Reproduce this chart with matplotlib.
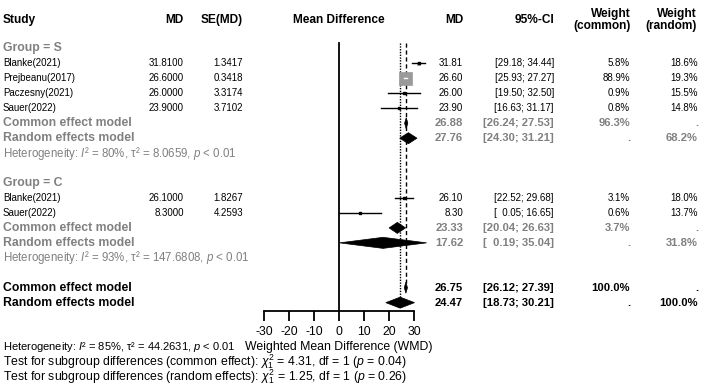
import numpy as np
import matplotlib.pyplot as plt
from matplotlib.patches import Rectangle, Polygon

plt.rcParams['font.family'] = 'Liberation Sans'
plt.rcParams['mathtext.fontset'] = 'custom'
plt.rcParams['mathtext.rm'] = 'Liberation Sans'
plt.rcParams['mathtext.it'] = 'Liberation Sans:italic'
plt.rcParams['mathtext.bf'] = 'Liberation Sans:bold'

# ---- data ----
studies_s = ['Blanke(2021)', 'Prejbeanu(2017)', 'Paczesny(2021)', 'Sauer(2022)']
md_s = [31.81, 26.60, 26.00, 23.90]
se_s = [1.3417, 0.3418, 3.3174, 3.7102]
lo_s = [29.18, 25.93, 19.50, 16.63]
hi_s = [34.44, 27.27, 32.50, 31.17]
wc_s = [5.8, 88.9, 0.9, 0.8]
wr_s = [18.6, 19.3, 15.5, 14.8]

studies_c = ['Blanke(2021)', 'Sauer(2022)']
md_c = [26.10, 8.30]
se_c = [1.8267, 4.2593]
lo_c = [22.52, 0.05]
hi_c = [29.68, 16.65]
wc_c = [3.1, 0.6]
wr_c = [18.0, 13.7]

# model estimates: (est, lo, hi)
common_s = (26.88, 26.24, 27.53)
random_s = (27.76, 24.30, 31.21)
common_c = (23.33, 20.04, 26.63)
random_c = (17.62, 0.19, 35.04)
common_all = (26.75, 26.12, 27.39)
random_all = (24.47, 18.73, 30.21)
wc_models = ['96.3%', '.', '3.7%', '.', '100.0%', '.']
wr_models = ['.', '68.2%', '.', '31.8%', '.', '100.0%']

het_s = r'Heterogeneity: $I$² = 80%, τ² = 8.0659, $p$ < 0.01'
het_c = r'Heterogeneity: $I$² = 93%, τ² = 147.6808, $p$ < 0.01'
het_all = r'Heterogeneity: $\mathbf{\mathit{I}}$² = 85%, τ² = 44.2631, $\mathbf{\mathit{p}}$ < 0.01'
test_common = r'Test for subgroup differences (common effect): $\chi^2_1$ = 4.31, df = 1 ($p$ = 0.04)'
test_random = r'Test for subgroup differences (random effects): $\chi^2_1$ = 1.25, df = 1 ($p$ = 0.26)'
xticks = [-30, -20, -10, 0, 10, 20, 30]

# ---- layout (pixels) ----
W, H = 702, 387
Y0, STEP = 48.5, 14.95
def row(px):
    return (px - Y0) / STEP

GRAY = '#808080'
SQ = '#9a9a9a'
fig = plt.figure(figsize=(W / 100, H / 100), dpi=100)
tax = fig.add_axes([0, 0, 1, 1])
tax.set_xlim(0, W)
tax.set_ylim(row(H), row(0))
tax.axis('off')

axis_px = 311
ax = fig.add_axes([264 / W, (H - axis_px) / H, 163 / W, axis_px / H])
ax.set_xlim(-30, 35.2)
ax.set_ylim(row(axis_px), row(0))
ax.patch.set_alpha(0)
for s in ['top', 'right', 'left']:
    ax.spines[s].set_visible(False)
ax.spines['bottom'].set_bounds(-30, 30)
ax.spines['bottom'].set_linewidth(1.3)
ax.set_yticks([])
ax.set_xticks(xticks)
ax.set_xticklabels([str(t) for t in xticks], fontsize=8.8)
ax.tick_params(axis='x', direction='out', length=7.2, width=1.3, pad=3.5)

px_per_x = 2.5
def xhalf(px):
    return px / px_per_x
def yhalf(px):
    return px / STEP

# reference lines
top = row(43)
ax.plot([0, 0], [top, row(axis_px)], color='black', lw=1.3)
ax.plot([common_all[0]] * 2, [top, 16 - 0.3], color='black', lw=1, ls=(0, (3, 2)))
ax.plot([random_all[0]] * 2, [top, 17 - 0.37], color='black', lw=1, ls=(0, (1, 1)))

def study(r, m, lo, hi, wc):
    side = 13 * np.sqrt(wc / 88.9)
    ax.add_patch(Rectangle((m - xhalf(side / 2), r - yhalf(side / 2)),
                           xhalf(side), yhalf(side), facecolor=SQ, edgecolor=SQ, lw=0.5, zorder=3))
    inside = (m - lo) < xhalf(side / 2)
    ax.plot([lo, hi], [r, r], color='white' if inside else 'black', lw=1, zorder=4)
    if not inside:
        ax.plot([m], [r], marker='s', ms=2, color='black', zorder=4)

def diamond(r, est, h=0.37):
    m, lo, hi = est
    ax.add_patch(Polygon([(lo, r), (m, r - h), (hi, r), (m, r + h)],
                         closed=True, facecolor='black', edgecolor='black', lw=0.5, zorder=5))

def txt(x, r, s, ha='right', color='black', size=7, weight='normal'):
    tax.text(x, r, s, ha=ha, va='center', color=color, fontsize=size, fontweight=weight)

# header
hr = row(20)
txt(3, hr, 'Study', ha='left', size=8.6, weight='bold')
txt(184, hr, 'MD', size=8.6, weight='bold')
txt(243, hr, 'SE(MD)', size=8.6, weight='bold')
txt(339, hr, 'Mean Difference', ha='center', size=8.6, weight='bold')
txt(463, hr, 'MD', size=8.6, weight='bold')
txt(554, hr, '95%-CI', size=8.6, weight='bold')
tax.text(631, hr, 'Weight\n(common)', ha='right', va='center', ma='right',
         fontsize=8.6, fontweight='bold', linespacing=1.05)
tax.text(697, hr, 'Weight\n(random)', ha='right', va='center', ma='right',
         fontsize=8.6, fontweight='bold', linespacing=1.05)

def ci_str(lo, hi):
    return '[' + f'{lo:.2f}'.rjust(5, '\u2007') + '; ' + f'{hi:.2f}' + ']'

def group(start, label, names, md, se, lo, hi, wc, wr, cm, rm, wcm, wrm, het):
    txt(3, start, label, ha='left', color=GRAY, size=8.8, weight='bold')
    for i, n in enumerate(names):
        r = start + 1 + i
        txt(3, r, n, ha='left')
        txt(184, r, f'{md[i]:.4f}')
        txt(243, r, f'{se[i]:.4f}')
        txt(463, r, f'{md[i]:.2f}')
        txt(554, r, ci_str(lo[i], hi[i]))
        txt(630, r, f'{wc[i]:.1f}%')
        txt(698, r, f'{wr[i]:.1f}%')
        study(r, md[i], lo[i], hi[i], wc[i])
    r = start + 1 + len(names)
    for k, (lab, est) in enumerate([('Common effect model', cm), ('Random effects model', rm)]):
        txt(3, r + k, lab, ha='left', color=GRAY, size=8.8, weight='bold')
        txt(463, r + k, f'{est[0]:.2f}', color=GRAY, size=8.1, weight='bold')
        txt(554, r + k, ci_str(est[1], est[2]), color=GRAY, size=8.1, weight='bold')
        txt(630, r + k, wcm[k], color=GRAY, size=8.1, weight='bold')
        txt(698, r + k, wrm[k], color=GRAY, size=8.1, weight='bold')
        diamond(r + k, est)
    txt(3, r + 2, het, ha='left', color=GRAY, size=8.3)

group(0, 'Group = S', studies_s, md_s, se_s, lo_s, hi_s, wc_s, wr_s,
      common_s, random_s, wc_models[0:2], wr_models[0:2], het_s)
group(9, 'Group = C', studies_c, md_c, se_c, lo_c, hi_c, wc_c, wr_c,
      common_c, random_c, wc_models[2:4], wr_models[2:4], het_c)

for k, (lab, est) in enumerate([('Common effect model', common_all), ('Random effects model', random_all)]):
    r = 16 + k
    txt(3, r, lab, ha='left', size=8.8, weight='bold')
    txt(463, r, f'{est[0]:.2f}', size=8.1, weight='bold')
    txt(554, r, ci_str(est[1], est[2]), size=8.1, weight='bold')
    txt(630, r, wc_models[4 + k], size=8.1, weight='bold')
    txt(698, r, wr_models[4 + k], size=8.1, weight='bold')
    diamond(r, est)

txt(339, row(347), 'Weighted Mean Difference (WMD)', ha='center', size=8.8)
txt(3, row(347), het_all, ha='left', size=8.05)
txt(3, row(362), test_common, ha='left', size=8.8)
txt(3, row(377), test_random, ha='left', size=8.8)

plt.savefig('out.png', dpi=100)
